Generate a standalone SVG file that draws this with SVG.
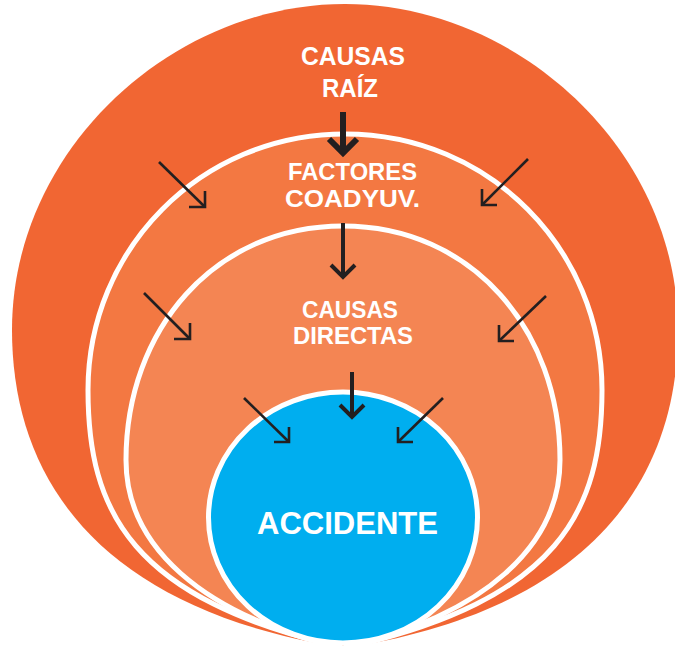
<svg xmlns="http://www.w3.org/2000/svg" width="675" height="647" viewBox="0 0 675 647">
<style>
.lbl{font-family:"Liberation Sans",Arial,sans-serif;font-weight:bold;fill:#ffffff;text-anchor:middle}
.ring{stroke:#ffffff;stroke-width:5}
.thin{fill:none;stroke:#231F20;stroke-width:2.6;stroke-linejoin:miter;stroke-linecap:butt}
.thick{fill:none;stroke:#231F20;stroke-width:4;stroke-linejoin:miter;stroke-linecap:butt}
.thicker{fill:none;stroke:#231F20;stroke-width:6;stroke-linejoin:miter;stroke-linecap:butt}
</style>
<rect width="675" height="647" fill="#ffffff"/>
<g id="causas-raiz">
<path d="M345,4 C172,4 12,150 12,330 C12,480 100,610 345,648 C590,610 678,480 678,330 C678,150 518,4 345,4 Z" fill="#F16633"/>
<text class="lbl" x="353" y="65" font-size="25" textLength="104" lengthAdjust="spacingAndGlyphs">CAUSAS</text>
<text class="lbl" x="350" y="97" font-size="25" textLength="56" lengthAdjust="spacingAndGlyphs">RAÍZ</text>
</g>
<g id="factores-coadyuv">
<path class="ring" d="M345,134 C200,134 88,250 88,390 C88,510 130,600 345,648 C560,600 602,510 602,390 C602,250 490,134 345,134 Z" fill="#F37842"/>
<text class="lbl" x="352.5" y="180" font-size="23" textLength="129" lengthAdjust="spacingAndGlyphs">FACTORES</text>
<text class="lbl" x="352.5" y="207" font-size="23" textLength="135" lengthAdjust="spacingAndGlyphs">COADYUV.</text>
</g>
<g id="causas-directas">
<path class="ring" d="M343,226 C214,226 126,330 126,460 C126,545 200,615 343,648 C486,615 560,545 560,460 C560,330 472,226 343,226 Z" fill="#F48553"/>
<text class="lbl" x="350" y="318" font-size="23" textLength="96" lengthAdjust="spacingAndGlyphs">CAUSAS</text>
<text class="lbl" x="353" y="344" font-size="23" textLength="120" lengthAdjust="spacingAndGlyphs">DIRECTAS</text>
</g>
<g id="accidente">
<ellipse class="ring" cx="343" cy="517.5" rx="134.5" ry="125.5" fill="#00AEEF"/>
<text class="lbl" x="347.5" y="534" font-size="32" textLength="181" lengthAdjust="spacingAndGlyphs">ACCIDENTE</text>
</g>
<g id="connectors">
<line class="thicker" x1="343" y1="112" x2="343" y2="152"/>
<polyline class="thicker" points="329,139 343,153 357,139"/>
<line class="thick" x1="343" y1="223" x2="343" y2="277"/>
<polyline class="thick" points="331,265 343,277 355,265"/>
<line class="thick" x1="352" y1="372" x2="352" y2="417"/>
<polyline class="thick" points="340,405 352,417 364,405"/>
<line class="thin" x1="159" y1="162" x2="205" y2="207"/>
<polyline class="thin" points="205,191 205,207 189,207"/>
<line class="thin" x1="144" y1="293" x2="190" y2="339"/>
<polyline class="thin" points="190,323 190,339 174,339"/>
<line class="thin" x1="528" y1="159" x2="482" y2="205"/>
<polyline class="thin" points="482,189 482,205 497,205"/>
<line class="thin" x1="546" y1="296" x2="499" y2="341"/>
<polyline class="thin" points="499,325 499,341 514,341"/>
<line class="thin" x1="244" y1="398" x2="289" y2="442"/>
<polyline class="thin" points="289,427 289,442 274,442"/>
<line class="thin" x1="443" y1="398" x2="398" y2="442"/>
<polyline class="thin" points="398,427 398,442 413,442"/>
</g>
</svg>
